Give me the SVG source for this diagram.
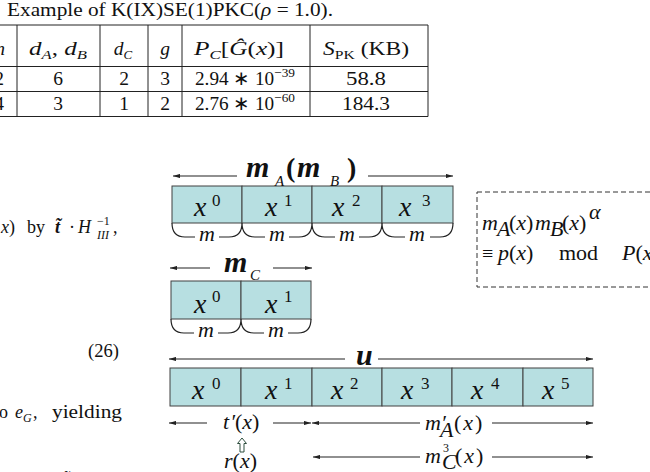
<svg xmlns="http://www.w3.org/2000/svg" width="650" height="472" viewBox="0 0 650 472">
<defs>
<marker id="ah" viewBox="0 0 10 6" refX="10" refY="3" markerWidth="7" markerHeight="4.2" orient="auto" markerUnits="userSpaceOnUse"><path d="M0,0 L10,3 L0,6 z" fill="#222"/></marker>
</defs>
<style>
.cell{fill:#b7dfe1;stroke:#404040;stroke-width:1}
.tx{font-family:"Liberation Serif","Times New Roman",serif;fill:#111}
.it{font-style:italic}
.bi{font-style:italic;font-weight:bold}
.arr{stroke:#222;stroke-width:1.1;fill:none}
.br{stroke:#222;stroke-width:1.2;fill:none}
.tb{stroke:#222;stroke-width:1;fill:none}
.cx{font-family:"Liberation Serif","Times New Roman",serif;font-style:italic;font-size:28px;fill:#111}
.sp{font-family:"Liberation Serif","Times New Roman",serif;font-size:17px;fill:#111}
.lb{font-family:"Liberation Serif","Times New Roman",serif;font-style:italic;font-size:22px;fill:#111}
.tt{font-family:"Liberation Serif","Times New Roman",serif;font-size:19.5px;fill:#111}
</style>

<!-- caption and table -->
<g id="table">
<text class="tx" x="7" y="16" font-size="18" textLength="326" lengthAdjust="spacingAndGlyphs">Example of K(IX)SE(1)PKC(<tspan class="it">ρ</tspan> = 1.0).</text>
<path class="tb" d="M0,25 H428 M0,66.5 H428 M0,91.5 H428 M0,116.5 H428 M17,25 V116.5 M100,25 V116.5 M148,25 V116.5 M182,25 V116.5 M310,25 V116.5 M428,25 V116.5"/>
<text class="tt it" x="5" y="55" text-anchor="end">n</text>
<text class="tt" x="58" y="55" text-anchor="middle" textLength="58" lengthAdjust="spacingAndGlyphs"><tspan class="it">d</tspan><tspan class="it" font-size="13" dy="4">A</tspan><tspan dy="-4">, </tspan><tspan class="it">d</tspan><tspan class="it" font-size="13" dy="4">B</tspan></text>
<text class="tt" x="123" y="55" text-anchor="middle"><tspan class="it">d</tspan><tspan class="it" font-size="13" dy="4">C</tspan></text>
<text class="tt it" x="165" y="55" text-anchor="middle">g</text>
<text class="tt" x="239" y="55" text-anchor="middle" textLength="90" lengthAdjust="spacingAndGlyphs"><tspan class="it">P</tspan><tspan class="it" font-size="13" dy="4">C</tspan><tspan dy="-4">[</tspan><tspan class="it">Ĝ</tspan>(<tspan class="it">x</tspan>)]</text>
<text class="tt" x="366" y="55" text-anchor="middle" textLength="86" lengthAdjust="spacingAndGlyphs"><tspan class="it">S</tspan><tspan font-size="13" dy="4">PK</tspan><tspan dy="-4"> (KB)</tspan></text>
<text class="tt" x="4" y="85" text-anchor="end">2</text>
<text class="tt" x="58" y="85" text-anchor="middle">6</text>
<text class="tt" x="124" y="85" text-anchor="middle">2</text>
<text class="tt" x="165" y="85" text-anchor="middle">3</text>
<text class="tt" x="245" y="85" text-anchor="middle" textLength="100" lengthAdjust="spacingAndGlyphs">2.94 ∗ 10<tspan font-size="13.5" dy="-8">−39</tspan></text>
<text class="tt" x="366" y="85" text-anchor="middle" textLength="40" lengthAdjust="spacingAndGlyphs">58.8</text>
<text class="tt" x="4" y="110" text-anchor="end">4</text>
<text class="tt" x="58" y="110" text-anchor="middle">3</text>
<text class="tt" x="124" y="110" text-anchor="middle">1</text>
<text class="tt" x="165" y="110" text-anchor="middle">2</text>
<text class="tt" x="245" y="110" text-anchor="middle" textLength="100" lengthAdjust="spacingAndGlyphs">2.76 ∗ 10<tspan font-size="13.5" dy="-8">−60</tspan></text>
<text class="tt" x="366" y="110" text-anchor="middle" textLength="48" lengthAdjust="spacingAndGlyphs">184.3</text>
</g>

<!-- body text fragments -->
<g id="bodytext">
<text class="tx it" x="15" y="233" font-size="18" text-anchor="end">x<tspan font-style="normal">)</tspan></text>
<text class="tx" x="27" y="233" font-size="18">by</text>
<text class="tx bi" x="55" y="233" font-size="18">t̃</text>
<text class="tx" x="69" y="233" font-size="18">·</text>
<text class="tx it" x="78" y="233" font-size="18">H</text>
<text class="tx" x="97" y="225" font-size="12">−1</text>
<text class="tx it" x="97" y="239" font-size="12">III</text>
<text class="tx" x="113" y="233" font-size="18">,</text>
<text class="tx" x="88" y="357" font-size="18.5">(26)</text>
<text class="tx" x="8" y="418" font-size="18" text-anchor="end">to</text>
<text class="tx it" x="15" y="418" font-size="18">e</text>
<text class="tx it" x="23" y="422" font-size="12">G</text>
<text class="tx" x="33" y="418" font-size="18">,</text>
<text class="tx" x="52" y="418" font-size="18" textLength="70" lengthAdjust="spacingAndGlyphs">yielding</text>
<text class="tx" x="63" y="486" font-size="18"><tspan class="bi">t̃</tspan><tspan class="it">′</tspan>(<tspan class="it">x</tspan>) is l</text>
</g>

<!-- m_A (m_B) block -->
<g id="mA">
<rect class="cell" x="172" y="186" width="70" height="37"/>
<rect class="cell" x="242" y="186" width="70" height="37"/>
<rect class="cell" x="312" y="186" width="70" height="37"/>
<rect class="cell" x="382" y="186" width="71" height="37"/>
<text class="cx" x="194" y="216">x</text><text class="sp" x="212" y="206">0</text>
<text class="cx" x="265" y="216">x</text><text class="sp" x="284" y="206">1</text>
<text class="cx" x="332" y="216" font-size="30">x</text><text class="sp" x="352" y="206">2</text>
<text class="cx" x="399" y="216" font-size="30">x</text><text class="sp" x="422" y="206">3</text>
<text class="tx bi" x="246" y="177" font-size="30">m</text>
<text class="tx it" x="275" y="186" font-size="15" fill="#444">A</text>
<text class="tx" x="286" y="177" font-size="28" font-weight="bold">(</text>
<text class="tx bi" x="297" y="177" font-size="30">m</text>
<text class="tx it" x="330" y="186" font-size="15" fill="#444">B</text>
<text class="tx" x="347" y="177" font-size="28" font-weight="bold">)</text>
<path class="br" d="M172,223 Q172,237 185,237 H195 M219,237 H229 Q242,237 242,223 Q242,237 255,237 H265 M289,237 H299 Q312,237 312,223 Q312,237 325,237 H335 M359,237 H369 Q382,237 382,223 Q382,237 395,237 H405 M430,237 H440 Q453,237 453,223"/>
<text class="lb" x="207" y="241" font-size="18" text-anchor="middle">m</text>
<text class="lb" x="277" y="241" font-size="18" text-anchor="middle">m</text>
<text class="lb" x="347" y="241" font-size="18" text-anchor="middle">m</text>
<text class="lb" x="417" y="241" font-size="18" text-anchor="middle">m</text>
</g>

<!-- m_C block -->
<g id="mC">
<rect class="cell" x="171" y="281" width="70" height="38"/>
<rect class="cell" x="241" y="281" width="70" height="38"/>
<text class="cx" x="194" y="313">x</text><text class="sp" x="212" y="302">0</text>
<text class="cx" x="265" y="313">x</text><text class="sp" x="284" y="302">1</text>
<text class="tx bi" x="224" y="272" font-size="30">m</text>
<text class="tx it" x="250" y="280" font-size="15" fill="#444">C</text>
<path class="br" d="M171,319 Q171,333 184,333 H194 M218,333 H228 Q241,333 241,319 Q241,333 254,333 H264 M288,333 H298 Q311,333 311,319"/>
<text class="lb" x="206" y="337" font-size="18" text-anchor="middle">m</text>
<text class="lb" x="276" y="337" font-size="18" text-anchor="middle">m</text>
</g>

<!-- equation box -->
<g id="eqbox">
<rect x="477" y="192" width="190" height="95" fill="none" stroke="#333" stroke-width="1" stroke-dasharray="5,3"/>
<text class="lb" x="482" y="230">m</text>
<text class="lb" x="497" y="236" font-size="13">A</text>
<text class="lb" x="509" y="230"><tspan font-style="normal">(</tspan>x<tspan font-style="normal">)</tspan></text>
<text class="lb" x="535" y="230">m</text>
<text class="lb" x="550" y="236" font-size="13">B</text>
<text class="lb" x="562" y="230"><tspan font-style="normal">(</tspan>x<tspan font-style="normal">)</tspan></text>
<text class="lb" x="589" y="219" font-size="14">α</text>
<text class="tx" x="482" y="260" font-size="20">≡</text>
<text class="lb" x="498" y="260">p<tspan font-style="normal">(</tspan>x<tspan font-style="normal">)</tspan></text>
<text class="tx" x="559" y="260" font-size="22">mod</text>
<text class="lb" x="622" y="260">P<tspan font-style="normal">(</tspan>x</text>
</g>

<!-- u block -->
<g id="u">
<rect class="cell" x="170" y="368" width="71" height="38"/>
<rect class="cell" x="241" y="368" width="71" height="38"/>
<rect class="cell" x="312" y="368" width="70" height="38"/>
<rect class="cell" x="382" y="368" width="70" height="38"/>
<rect class="cell" x="452" y="368" width="71" height="38"/>
<rect class="cell" x="523" y="368" width="70" height="38"/>
<text class="cx" x="192" y="399">x</text><text class="sp" x="212" y="389">0</text>
<text class="cx" x="265" y="399">x</text><text class="sp" x="284" y="389">1</text>
<text class="cx" x="331" y="399">x</text><text class="sp" x="350" y="389">2</text>
<text class="cx" x="401" y="399">x</text><text class="sp" x="421" y="389">3</text>
<text class="cx" x="471" y="399">x</text><text class="sp" x="491" y="389">4</text>
<text class="cx" x="542" y="399">x</text><text class="sp" x="561" y="389">5</text>
<text class="tx bi" x="356" y="365" font-size="30">u</text>
</g>

<!-- bottom labels -->
<g id="labels">
<text class="lb" x="223" y="429">t<tspan dx="1">′</tspan><tspan font-style="normal">(</tspan>x<tspan font-style="normal">)</tspan></text>
<polygon points="242,438 237.5,443.5 240,443.5 240,452 244,452 244,443.5 246.5,443.5" fill="#fff" stroke="#2f4f3f" stroke-width="1"/>
<text class="lb" x="224" y="468">r<tspan font-style="normal">(</tspan>x<tspan font-style="normal">)</tspan></text>
<text class="lb" x="425" y="430">m′</text>
<text class="lb" x="440" y="437" font-size="14">A</text>
<text class="lb" x="454" y="430" letter-spacing="2"><tspan font-style="normal">(</tspan>x<tspan font-style="normal">)</tspan></text>
<text class="lb" x="425" y="463">m</text>
<text class="tx" x="443" y="452" font-size="12">3</text>
<text class="lb" x="442" y="469" font-size="13">C</text>
<text class="lb" x="455" y="463" letter-spacing="2"><tspan font-style="normal">(</tspan>x<tspan font-style="normal">)</tspan></text>
</g>

<!-- connectors (dimension arrows) -->
<g id="connectors">
<line class="arr" x1="237" y1="176" x2="173" y2="176" marker-end="url(#ah)"/>
<line class="arr" x1="368" y1="176" x2="453" y2="176" marker-end="url(#ah)"/>
<line class="arr" x1="210" y1="268" x2="170" y2="268" marker-end="url(#ah)"/>
<line class="arr" x1="273" y1="268" x2="312" y2="268" marker-end="url(#ah)"/>
<line class="arr" x1="345" y1="359" x2="169" y2="359" marker-end="url(#ah)"/>
<line class="arr" x1="378" y1="359" x2="593" y2="359" marker-end="url(#ah)"/>
<line class="arr" x1="207" y1="423" x2="169" y2="423" marker-end="url(#ah)"/>
<line class="arr" x1="273" y1="423" x2="311" y2="423" marker-end="url(#ah)"/>
<line class="arr" x1="420" y1="423" x2="312" y2="423" marker-end="url(#ah)"/>
<line class="arr" x1="492" y1="423" x2="593" y2="423" marker-end="url(#ah)"/>
<line class="arr" x1="420" y1="457" x2="313" y2="457" marker-end="url(#ah)"/>
<line class="arr" x1="492" y1="457" x2="593" y2="457" marker-end="url(#ah)"/>
</g>
</svg>
